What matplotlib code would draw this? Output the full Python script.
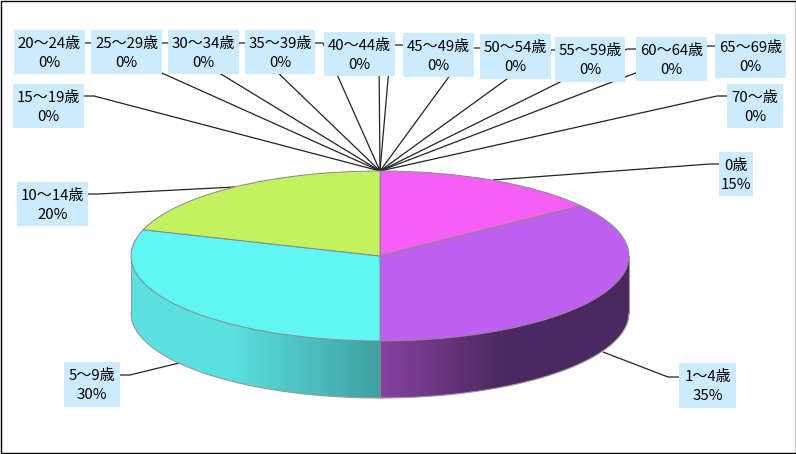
import numpy as np
import matplotlib
matplotlib.use("Agg")
import matplotlib.pyplot as plt
from matplotlib.patches import Rectangle, Polygon

plt.rcParams['font.family'] = ['Noto Sans CJK JP', 'DejaVu Sans']

# --- data ---
categories = ['0歳', '1～4歳', '5～9歳', '10～14歳', '15～19歳', '20～24歳', '25～29歳',
              '30～34歳', '35～39歳', '40～44歳', '45～49歳', '50～54歳', '55～59歳',
              '60～64歳', '65～69歳', '70～歳']
shares = [15, 35, 30, 20, 0, 0, 0, 0, 0, 0, 0, 0, 0, 0, 0, 0]

# --- styles / layout (pixels of the 796x454 canvas) ---
W, H = 796, 454
top_colors = ['#F55FF5', '#C060F2', '#60F6F6', '#C2F25F']
CX, CY, RX, RY, DEPTH = 380, 256, 249, 85, 57
BOX = '#CCEBFF'
boxes = {  # x0, y0, x1, y1
    '0歳': (719, 152, 753, 196), '1～4歳': (679, 363, 736, 408), '5～9歳': (64, 362, 120, 407),
    '10～14歳': (17, 182, 88, 226), '15～19歳': (13, 84, 84, 128), '20～24歳': (14, 30, 85, 74),
    '25～29歳': (91, 30, 162, 74), '30～34歳': (168, 30, 239, 74), '35～39歳': (245, 30, 315, 74),
    '40～44歳': (324, 32, 395, 76), '45～49歳': (403, 33, 474, 77), '50～54歳': (480, 34, 551, 79),
    '55～59歳': (555, 37, 625, 82), '60～64歳': (636, 37, 707, 81), '65～69歳': (715, 34, 786, 78),
    '70～歳': (727, 84, 783, 128),
}
leaders = {  # box attach point, elbow, slice end
    '0歳': [(719, 164), (710, 164), (493, 180)], '1～4歳': [(679, 377), (668, 377), (603, 352)],
    '5～9歳': [(120, 375), (130, 375), (179, 363)], '10～14歳': [(88, 194), (98, 194), (235, 187)],
    '15～19歳': [(84, 96), (94, 96), (380, 171)], '20～24歳': [(85, 43), (95, 43), (380, 171)],
    '25～29歳': [(162, 43), (170, 43), (380, 171)], '30～34歳': [(239, 43), (247, 43), (380, 171)],
    '35～39歳': [(315, 43), (323, 43), (380, 171)], '40～44歳': [(379, 60), (379, 60), (380, 171)],
    '45～49歳': [(403, 45), (391, 45), (380, 171)], '50～54歳': [(480, 48), (470, 48), (380, 171)],
    '55～59歳': [(555, 50), (547, 50), (380, 171)], '60～64歳': [(636, 49), (627, 49), (380, 171)],
    '65～69歳': [(715, 46), (706, 46), (380, 171)], '70～歳': [(727, 96), (717, 96), (380, 171)],
}

fig = plt.figure(figsize=(W / 100, H / 100), dpi=100, facecolor='white')

# canvas axes: leaders, boxes, frame
bg = fig.add_axes([0, 0, 1, 1])
bg.set_xlim(0, W)
bg.set_ylim(H, 0)
bg.axis('off')
bg.add_patch(Rectangle((0.5, 0.5), W - 1, H - 1.5, fc='none', ec='black', lw=1.0, clip_on=False))
for name, share in zip(categories, shares):
    pts = leaders[name]
    bg.plot([p[0] for p in pts], [p[1] for p in pts], color='#222222', lw=0.9, zorder=2,
            solid_capstyle='butt')
    x0, y0, x1, y1 = boxes[name]
    bg.add_patch(Rectangle((x0, y0), x1 - x0, y1 - y0, fc=BOX, ec='none', zorder=3))
    xm = (x0 + x1) / 2
    bg.text(xm, y0 + 14, name, ha='center', va='center', fontsize=10.8, color='black', zorder=4)
    bg.text(xm, y0 + 33, f'{share}%', ha='center', va='center', fontsize=10.8, color='black', zorder=4)

# pie axes: the unit circle is stretched onto the ellipse; extended below for the wall
pax = fig.add_axes([(CX - RX) / W, (H - CY - RY - DEPTH) / H, 2 * RX / W, (2 * RY + DEPTH) / H])
pax.patch.set_alpha(0)
d = DEPTH / RY


def wall_color(x_px):
    if x_px >= CX:  # purple side
        f = np.clip((x_px - CX) / 125, 0, 1)
        a, b = np.array([135, 65, 160]), np.array([76, 40, 96])
    else:  # cyan side
        f = np.clip((CX - x_px) / 150, 0, 1)
        a, b = np.array([64, 160, 160]), np.array([90, 224, 224])
    return (a + (b - a) * f) / 255


xs_px = np.arange(CX - RX, CX + RX)
grad = np.array([[wall_color(xp) for xp in xs_px]])
u = np.linspace(-1, 1, 600)
lo = -np.sqrt(1 - u ** 2)
img = pax.imshow(grad, extent=(-1, 1, -1 - d, 0), aspect='auto', interpolation='nearest', zorder=1)
wall = Polygon(np.r_[np.c_[u, lo], np.c_[u[::-1], (lo - d)[::-1]]], closed=True,
               transform=pax.transData, fc='none', ec='none')
img.set_clip_path(wall)
pax.plot(u, lo - d, color='#999999', lw=0.8, clip_on=False, zorder=2)
pax.plot([-1, -1], [0, -d], color='#999999', lw=0.8, clip_on=False, zorder=2)
pax.plot([1, 1], [0, -d], color='#999999', lw=0.8, clip_on=False, zorder=2)
pax.plot([0, 0], [-1, -1 - d], color='#888888', lw=0.8, clip_on=False, zorder=2)

nonzero = [s for s in shares if s > 0]
wedges, _ = pax.pie(nonzero, colors=top_colors, startangle=90, counterclock=False, radius=1,
                    wedgeprops=dict(edgecolor='#888888', linewidth=0.7, zorder=3))
pax.set_aspect('auto')
pax.set_xlim(-1, 1)
pax.set_ylim(-1 - d, 1)
pax.axis('off')
for w in wedges:
    w.set_clip_on(False)

fig.savefig('out.png', dpi=100)
